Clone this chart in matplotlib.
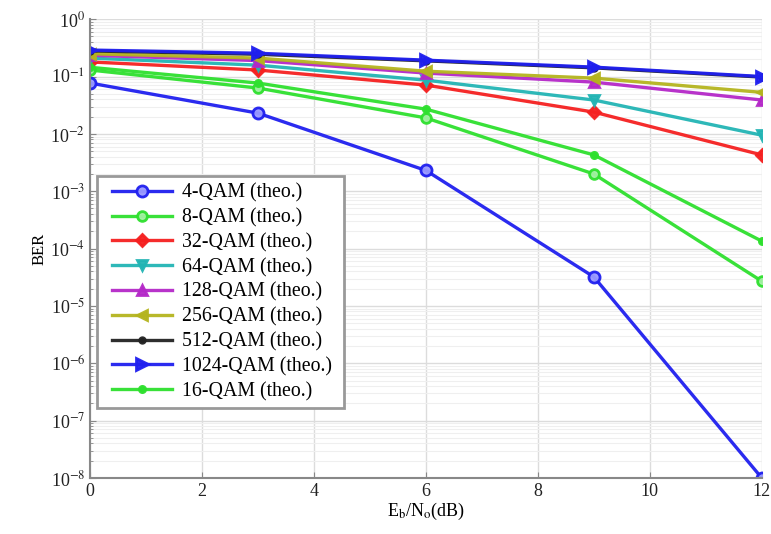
import math
import matplotlib.pyplot as plt
from matplotlib.patches import Rectangle
from matplotlib.ticker import FixedLocator, LogLocator, NullFormatter, FuncFormatter

plt.rcParams['font.family'] = ['Liberation Serif', 'DejaVu Serif']
plt.rcParams['mathtext.fontset'] = 'stix'

# Eb/No в dB
snr = [0, 3, 6, 9, 12]

ber_4 = [0.077, 0.023, 0.0023, 3.2e-5, 1.0e-8]
ber_8 = [0.13, 0.063, 0.019, 0.002, 2.7e-5]
ber_16 = [0.145, 0.077, 0.027, 0.0043, 1.35e-4]
ber_32 = [0.18, 0.13, 0.071, 0.024, 0.0043]
ber_64 = [0.21, 0.158, 0.0865, 0.039, 0.0095]
ber_128 = [0.235, 0.19, 0.115, 0.080, 0.039]
ber_256 = [0.25, 0.21, 0.124, 0.094, 0.053]
ber_512 = [0.28, 0.245, 0.188, 0.142, 0.098]
ber_1024 = [0.29, 0.255, 0.193, 0.146, 0.10]

labels = ["4-QAM (theo.)", "8-QAM (theo.)", "32-QAM (theo.)", "64-QAM (theo.)",
          "128-QAM (theo.)", "256-QAM (theo.)", "512-QAM (theo.)",
          "1024-QAM (theo.)", "16-QAM (theo.)"]

series = [ber_4, ber_8, ber_32, ber_64, ber_128, ber_256, ber_512, ber_1024, ber_16]
colors = ["#1f1fef", "#2ee02e", "#f52020", "#22b4b4", "#b428c8", "#b4b41e",
          "#222222", "#1f1fef", "#2ee02e"]
markers = ["o", "o", "D", "v", "^", "<", ".", ">", "."]
msizes = [8, 7, 6, 7, 7, 7, 8, 8, 9]
open_face = [True, True, False, False, False, False, False, False, False]


def pow_fmt(v, pos):
    # подписи вида 10^-3 с обычным дефисом
    k = int(round(math.log10(v)))
    if k == 0:
        return r"10$^{\mathrm{0}}$"
    return r"10$^{\mathrm{-%d}}$" % (-k)


fig = plt.figure(figsize=(7.71, 5.34), dpi=100)
ax = fig.add_axes([0.117, 0.105, 0.871, 0.859])

for ys, lab, c, m, ms, op in zip(series, labels, colors, markers, msizes, open_face):
    face = c
    if op:
        face = "#9999ff" if c == "#1f1fef" else "#a0f0a0"
    ax.semilogy(snr, ys, color=c, marker=m, markersize=ms, linewidth=2.4,
                markerfacecolor=face, markeredgecolor=c, markeredgewidth=2,
                label=lab, alpha=0.95)

ax.set_xlim(0, 12)
ax.set_ylim(1e-8, 1)
ax.set_xticks([0, 2, 4, 6, 8, 10, 12])
ax.yaxis.set_major_locator(FixedLocator([10.0 ** k for k in range(-8, 1)]))
ax.yaxis.set_major_formatter(FuncFormatter(pow_fmt))
ax.yaxis.set_minor_locator(LogLocator(base=10, subs=range(2, 10), numticks=20))
ax.yaxis.set_minor_formatter(NullFormatter())

ax.grid(True, which="major", color="#dcdcdc", linewidth=1.0)
ax.grid(True, which="minor", color="#efefef", linewidth=0.8)
ax.set_axisbelow(True)

for s in ["top", "right"]:
    ax.spines[s].set_visible(False)
for s in ["left", "bottom"]:
    ax.spines[s].set_color("#888888")
    ax.spines[s].set_linewidth(1.5)
ax.tick_params(which="both", direction="in", colors="#888888", labelcolor="#222222",
               labelsize=13)
ax.tick_params(which="major", length=4)
ax.tick_params(which="minor", length=2)

ax.set_xlabel(r"E$_\mathrm{b}$/N$_\mathrm{o}$(dB)", fontsize=13, labelpad=1)
ax.set_ylabel("BER", fontsize=12, labelpad=2)

leg = ax.legend(loc="upper left", bbox_to_anchor=(0.024, 0.655), fontsize=14.3,
                frameon=False, borderpad=0.3, labelspacing=0.28, handlelength=3.0,
                handletextpad=0.5, borderaxespad=0)
leg.set_zorder(5)

# рамка легенды с большими отступами по горизонтали
fig.canvas.draw()
bb = leg.get_window_extent()
inv = ax.transAxes.inverted()
(x0, y0) = inv.transform((bb.x0 - 9, bb.y0 - 1))
(x1, y1) = inv.transform((bb.x1 + 6, bb.y1 + 1))
frame = Rectangle((x0, y0), x1 - x0, y1 - y0, transform=ax.transAxes,
                  facecolor="white", edgecolor="#999999", linewidth=2,
                  zorder=4.5, clip_on=False)
ax.add_patch(frame)

fig.savefig("out.png", dpi=100)
